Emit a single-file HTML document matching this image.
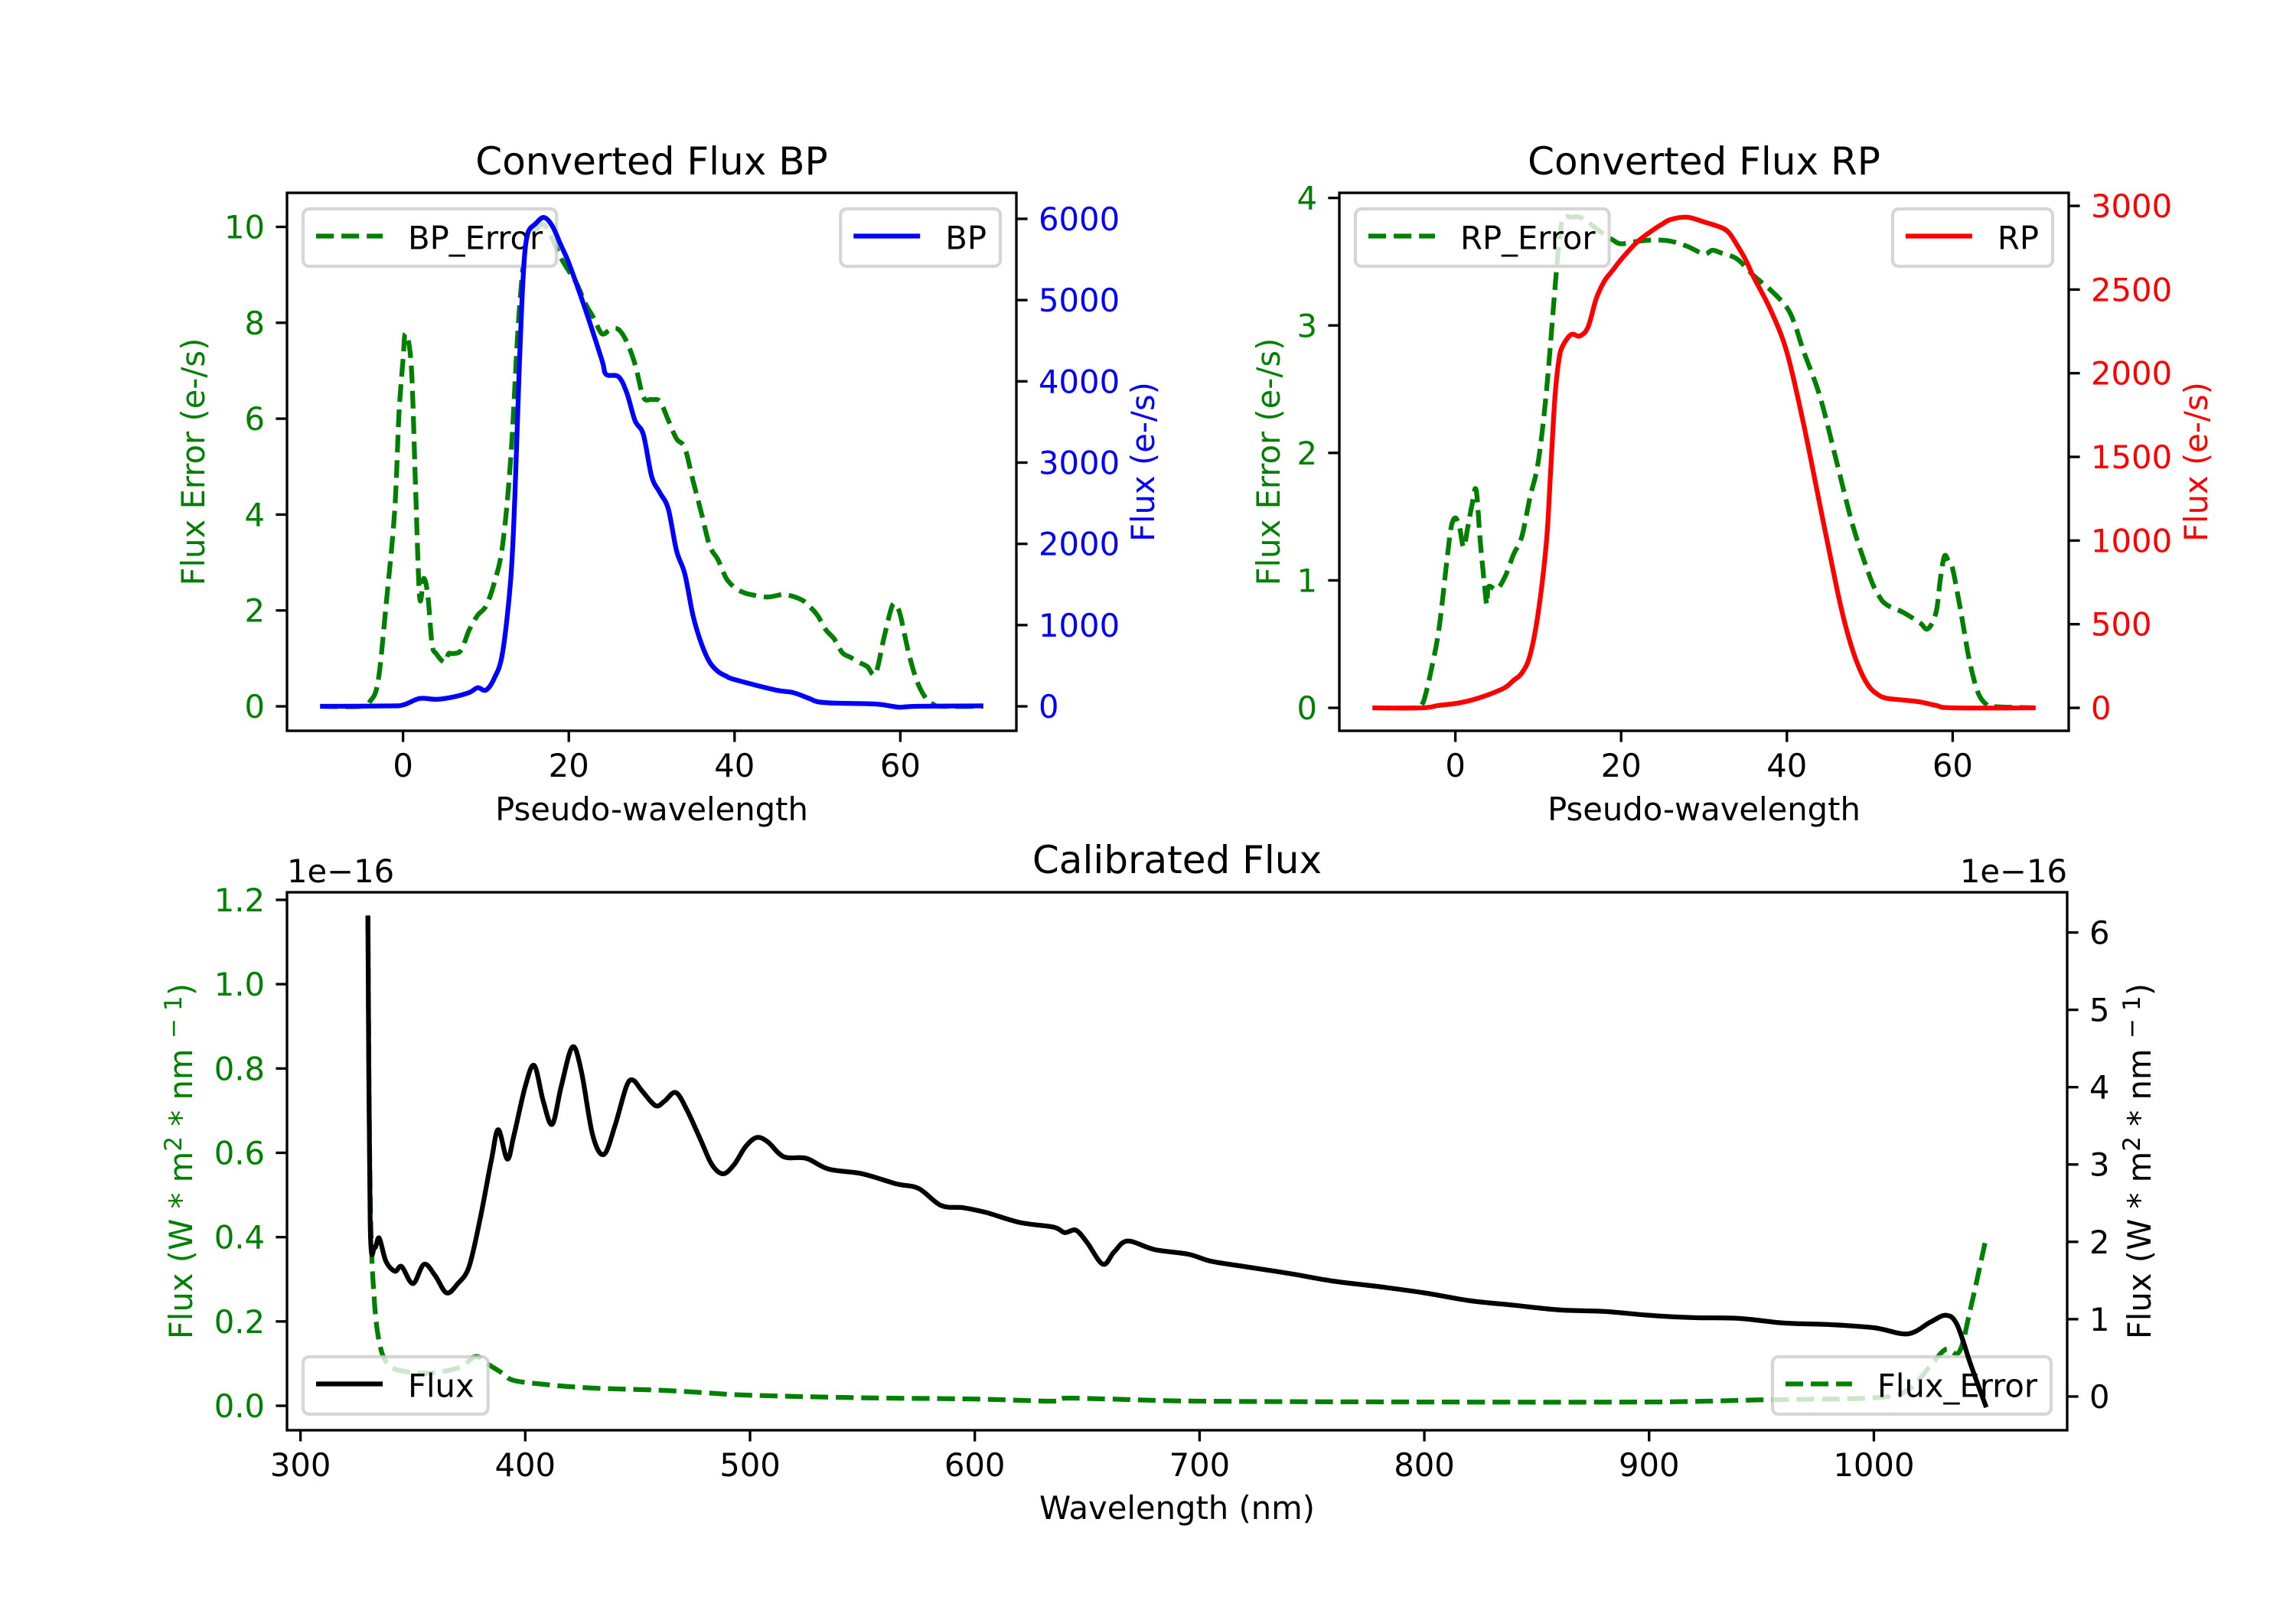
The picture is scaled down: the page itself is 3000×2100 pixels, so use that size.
<!DOCTYPE html>
<html><head><meta charset="utf-8"><style>
html,body{margin:0;padding:0;background:#fff;}
svg{display:block;font-family:"DejaVu Sans","Liberation Sans",sans-serif;}
</style></head><body>
<svg id="fig" width="3000" height="2100" viewBox="0 0 3000 2100" xmlns="http://www.w3.org/2000/svg">
<rect width="3000" height="2100" fill="#fff"/>
</svg>
<script>
// ---- data ----
const bpX   = [-10,-2,0,2,4,6,8,9,10,11,12,13,13.5,14,14.5,15,16,17,18,19,20,22,24,24.5,26,27,28,29,30,31,32,33,34,35,36,37,38,39,40,45,47,49,50,52,57,59,60,62,70];
const bpVal = [0,5,17,97,86,114,171,229,200,343,657,1571,2600,4086,5286,5800,5940,6017,5914,5686,5457,4885,4260,4086,4057,3857,3514,3343,2829,2629,2430,1914,1630,1114,771,543,429,371,330,200,171,97,57,40,29,0,-11,0,6];
const bpErrX   = [-10,-5,-4,-3,-2,-1,-0.5,0,0.3,1,1.5,2,2.5,3,3.5,4,5,5.5,6,7,8,9,10,11,12,13,14,15,16,17,18,19,20,21,22,23,24,25,26,27,28,29,30,31,32,33,34,35,36,37,38,39,40,41,42,44,46,48,49,50,51,52,53,54,55,56,57,58,59,59.5,60,61,62,63,64,65,70];
const bpErrVal = [0,0,0.1,0.53,2.2,4.1,6.07,7.23,7.77,7.1,4.6,2.28,2.67,2.3,1.3,1.1,0.92,1.1,1.1,1.17,1.6,1.9,2.09,2.57,3.35,5.19,8.2,9.85,9.95,10.05,9.76,9.37,9.08,8.8,8.4,8.1,7.77,7.86,7.86,7.6,7.13,6.45,6.4,6.36,5.97,5.58,5.39,4.7,4.03,3.35,3.06,2.67,2.48,2.38,2.33,2.28,2.33,2.23,2.09,1.9,1.6,1.41,1.12,1.02,0.92,0.83,0.68,1.41,2.09,2.09,1.9,1.12,0.53,0.19,0.04,0,0];
const rpX   = [-10,-4,-2,0,2,4,6,7,8,9,10,11,11.5,12,12.5,13,14,15,16,17,18,19,20,22,24,25,26,28,30,32,33,34,35,36,38,40,42,44,46,47,48,49,50,51,52,54,56,58,60,70];
const rpVal = [0,0,15,26,47,79,122,164,207,313,569,996,1422,1849,2083,2168,2232,2222,2275,2446,2552,2616,2680,2787,2861,2893,2919,2932,2904,2872,2840,2765,2680,2573,2382,2126,1699,1209,719,505,335,207,122,79,58,47,36,15,0,0];
const rpErrX   = [-10,-5,-4,-3.5,-3,-2,-1,-0.5,0,0.5,1,1.5,2,2.5,3,3.5,3.8,4,5,6,7,8,9,10,11,12,12.5,13,14,15,16,17,18,19,20,22,24,26,28,30,31,32,34,36,38,40,41,42,44,46,48,50,51,52,54,56,57,58,58.5,59,59.5,60,61,62,63,64,65,70];
const rpErrVal = [0,0,0.03,0.13,0.27,0.61,1.17,1.42,1.49,1.42,1.26,1.42,1.59,1.71,1.31,0.97,0.81,0.95,0.93,1.03,1.2,1.34,1.65,1.93,2.49,3.28,3.64,3.84,3.85,3.85,3.81,3.76,3.71,3.67,3.64,3.66,3.67,3.66,3.62,3.56,3.59,3.57,3.52,3.39,3.28,3.14,3.0,2.8,2.44,1.93,1.42,1.03,0.89,0.81,0.75,0.67,0.62,0.75,1.0,1.19,1.15,1.09,0.75,0.38,0.13,0.03,0.01,0];
const calX   = [330,331,333,335,338,342,345,350,355,360,365,370,375,380,385,388,392,395,400,404,408,412,416,421,425,430,435,440,445,448,452,458,462,467,472,478,483,488,493,498,503,508,515,525,535,550,565,575,585,595,605,620,635,640,645,650,657,662,668,680,695,705,720,740,760,780,800,820,840,860,880,900,920,940,960,980,1000,1015,1025,1032,1037,1043,1050];
const calFlux= [6.22,2.25,1.93,2.05,1.75,1.62,1.68,1.46,1.71,1.56,1.34,1.46,1.68,2.31,3.07,3.45,3.07,3.38,4.01,4.28,3.82,3.52,4.01,4.52,4.2,3.38,3.13,3.51,4.01,4.09,3.95,3.76,3.82,3.93,3.7,3.32,3.0,2.88,3.0,3.23,3.35,3.29,3.1,3.08,2.94,2.88,2.75,2.69,2.47,2.44,2.38,2.25,2.19,2.12,2.15,1.99,1.71,1.87,2.01,1.9,1.84,1.75,1.68,1.59,1.49,1.42,1.34,1.24,1.18,1.12,1.1,1.05,1.02,1.01,0.95,0.93,0.89,0.81,0.96,1.05,0.93,0.42,-0.14];
const errX   = [330,331,333,336,340,345,355,365,372,378,383,390,395,410,430,460,480,500,550,600,635,640,660,700,800,900,950,1000,1015,1025,1032,1038,1043,1050];
const errVal = [1.16,0.5,0.24,0.13,0.094,0.083,0.077,0.083,0.094,0.117,0.1,0.077,0.06,0.05,0.042,0.037,0.031,0.025,0.019,0.016,0.011,0.018,0.016,0.011,0.009,0.009,0.014,0.019,0.037,0.094,0.134,0.128,0.23,0.4];
const bpXTicks=[0,20,40,60], bpLTicks=[0,2,4,6,8,10], bpRTicks=[0,1000,2000,3000,4000,5000,6000];
const rpLTicks=[0,1,2,3,4], rpRTicks=[0,500,1000,1500,2000,2500,3000];
const calXTicks=[300,400,500,600,700,800,900,1000], calLTicks=[0,0.2,0.4,0.6,0.8,1.0,1.2], calRTicks=[0,1,2,3,4,5,6];

const NS='http://www.w3.org/2000/svg';
const svg=document.getElementById('fig');
const FS=41.7, LW=6.25;
function el(tag,attrs,parent){const e=document.createElementNS(NS,tag);for(const k in attrs)e.setAttribute(k,attrs[k]);(parent||svg).appendChild(e);return e;}
function txt(s,attrs,parent){const t=el('text',attrs,parent);t.textContent=s;return t;}
function scale(d0,d1,p0,p1){return v=>p0+(v-d0)/(d1-d0)*(p1-p0);}
function smooth(pts){let d='M'+pts[0][0].toFixed(1)+','+pts[0][1].toFixed(1);for(let i=0;i<pts.length-1;i++){const p0=pts[Math.max(i-1,0)],p1=pts[i],p2=pts[i+1],p3=pts[Math.min(i+2,pts.length-1)];const c1=[p1[0]+(p2[0]-p0[0])/6,p1[1]+(p2[1]-p0[1])/6],c2=[p2[0]-(p3[0]-p1[0])/6,p2[1]-(p3[1]-p1[1])/6];d+=' C'+c1.map(v=>v.toFixed(1)).join(',')+' '+c2.map(v=>v.toFixed(1)).join(',')+' '+p2[0].toFixed(1)+','+p2[1].toFixed(1);}return d;}
function series(xs,ys,sx,sy,color,dashed,name,clip){const pts=xs.map((x,i)=>[sx(x),sy(ys[i])]);const p=el('path',{d:smooth(pts),fill:'none',stroke:color,'stroke-width':LW,'stroke-linejoin':'round','clip-path':'url(#'+clip+')'});if(dashed)p.setAttribute('stroke-dasharray','23.1 10');


return p;}
function legend(x,y,w,anchorRight,color,dashed,label,name){const g=el('g',{});


const h=75;const t=txt(label,{y:y+h/2+15,'font-size':FS,fill:'#000'},g);const tw=t.getComputedTextLength();const W=17+87+33+tw+18;const bx=anchorRight?x-W:x;
const r=el('rect',{x:bx,y:y,width:W,height:h,rx:8,fill:'#fff','fill-opacity':0.8,stroke:'#cccccc','stroke-opacity':0.8,'stroke-width':4.2},g);g.insertBefore(r,t);
const l=el('line',{x1:bx+17,x2:bx+104,y1:y+h/2-2,y2:y+h/2-2,stroke:color,'stroke-width':LW},g);if(dashed)l.setAttribute('stroke-dasharray','23.1 10');g.insertBefore(l,t);
t.setAttribute('x',bx+137);return g;}
function frame(x0,x1,y0,y1,name){const r=el('rect',{x:x0,y:y0,width:x1-x0,height:y1-y0,fill:'none',stroke:'#000','stroke-width':3.33});

}
function xticks(ticks,sx,y1,fmt,name){const g=el('g',{});


ticks.forEach(v=>{const x=sx(v);el('line',{x1:x,x2:x,y1:y1,y2:y1+14.6,stroke:'#000','stroke-width':3.33},g);txt(fmt(v),{x:x,y:y1+60,'font-size':FS,'text-anchor':'middle',fill:'#000'},g);});}
function yticks(ticks,sy,x,side,color,fmt,name){const g=el('g',{});


ticks.forEach(v=>{const y=sy(v);const dx=side<0?-14.6:14.6;el('line',{x1:x,x2:x+dx,y1:y,y2:y,stroke:'#000','stroke-width':3.33},g);txt(fmt(v),{x:x+(side<0?-29:29),y:y+15,'font-size':FS,'text-anchor':side<0?'end':'start',fill:color},g);});}
function ylabel(s,x,cy,color,name){const t=txt('',{x:0,y:0,'font-size':FS,fill:color,'text-anchor':'middle',transform:'translate('+x+','+cy+') rotate(-90)'});


if(Array.isArray(s)){s.forEach(part=>{const ts=el('tspan',{},t);ts.textContent=part[0];if(part[1]){ts.setAttribute('dy',part[1]);}if(part[2]){ts.setAttribute('font-size',FS*0.75);}});}else t.textContent=s;t.setAttribute('y',14);return t;}
function clip(id,x0,x1,y0,y1){const c=el('clipPath',{id:id});el('rect',{x:x0,y:y0,width:x1-x0,height:y1-y0},c);}
function label(s,x,y,size,name,anchor){const t=txt(s,{x:x,y:y,'font-size':size,'text-anchor':anchor||'middle',fill:'#000'});

}
const G='#008000';
const int=v=>String(v);

// ---- BP panel ----
(function(){const x0=375,x1=1328,y0=252,y1=955;clip('cbp',x0,x1,y0,y1);
const sx=scale(-14,74,x0,x1), syL=scale(-0.51,10.71,y1,y0), syR=scale(-301,6320,y1,y0);
series(bpErrX,bpErrVal,sx,syL,G,true,'bp-error-line','cbp');
legend(396,273,0,false,G,true,'BP_Error','bp-error-legend');
series(bpX,bpVal,sx,syR,'#0000ff',false,'bp-flux-line','cbp');
legend(1307,273,0,true,'#0000ff',false,'BP','bp-legend');
frame(x0,x1,y0,y1,'bp-axes-frame');
xticks(bpXTicks,sx,y1,int,'bp-x-ticks');
yticks(bpLTicks,syL,x0,-1,G,int,'bp-left-ticks');
yticks(bpRTicks,syR,x1,1,'#0000ff',int,'bp-right-ticks');
label('Converted Flux BP',(x0+x1)/2,228,50,'bp-title');
label('Pseudo-wavelength',(x0+x1)/2,1072,FS,'bp-x-label');
ylabel('Flux Error (e-/s)',253,(y0+y1)/2,G,'bp-left-y-label');
ylabel('Flux (e-/s)',1494,(y0+y1)/2,'#0000ff','bp-right-y-label');})();

// ---- RP panel ----
(function(){const x0=1750,x1=2703,y0=252,y1=955;clip('crp',x0,x1,y0,y1);
const sx=scale(-14,74,x0,x1), syL=scale(-0.18,4.04,y1,y0), syR=scale(-137,3078,y1,y0);
series(rpErrX,rpErrVal,sx,syL,G,true,'rp-error-line','crp');
legend(1771,273,0,false,G,true,'RP_Error','rp-error-legend');
series(rpX,rpVal,sx,syR,'#ff0000',false,'rp-flux-line','crp');
legend(2682,273,0,true,'#ff0000',false,'RP','rp-legend');
frame(x0,x1,y0,y1,'rp-axes-frame');
xticks(bpXTicks,sx,y1,int,'rp-x-ticks');
yticks(rpLTicks,syL,x0,-1,G,int,'rp-left-ticks');
yticks(rpRTicks,syR,x1,1,'#ff0000',int,'rp-right-ticks');
label('Converted Flux RP',(x0+x1)/2,228,50,'rp-title');
label('Pseudo-wavelength',(x0+x1)/2,1072,FS,'rp-x-label');
ylabel('Flux Error (e-/s)',1658,(y0+y1)/2,G,'rp-left-y-label');
ylabel('Flux (e-/s)',2870,(y0+y1)/2,'#ff0000','rp-right-y-label');})();

// ---- Calibrated panel ----
(function(){const x0=375,x1=2701,y0=1166,y1=1869;clip('ccal',x0,x1,y0,y1);
const sx=scale(294,1086,x0,x1), syL=scale(-0.058,1.218,y1,y0), syR=scale(-0.436,6.52,y1,y0);
series(errX,errVal,sx,syL,G,true,'flux-error-line','ccal');
legend(2680,1773,0,true,G,true,'Flux_Error','flux-error-legend');
series(calX,calFlux,sx,syR,'#000',false,'flux-line','ccal');
legend(396,1773,0,false,'#000',false,'Flux','flux-legend');
frame(x0,x1,y0,y1,'cal-axes-frame');
xticks(calXTicks,sx,y1,int,'cal-x-ticks');
yticks(calLTicks,syL,x0,-1,G,v=>v.toFixed(1),'cal-left-ticks');
yticks(calRTicks,syR,x1,1,'#000',int,'cal-right-ticks');
label('Calibrated Flux',(x0+x1)/2,1141,50,'cal-title');
label('1e\u221216',x0,1153,FS,'cal-left-offset','start');
label('1e\u221216',x1,1153,FS,'cal-right-offset','end');
label('Wavelength (nm)',(x0+x1)/2,1985,FS,'cal-x-label');
const lab=[['Flux (W * m'],['2','-14',1],[' * nm ','14'],['\u2212 1','-14',1],[')','14']];
ylabel(lab,237,(y0+y1)/2,G,'cal-left-y-label');
ylabel(lab,2796,(y0+y1)/2,'#000','cal-right-y-label');})();
</script>
</body></html>
